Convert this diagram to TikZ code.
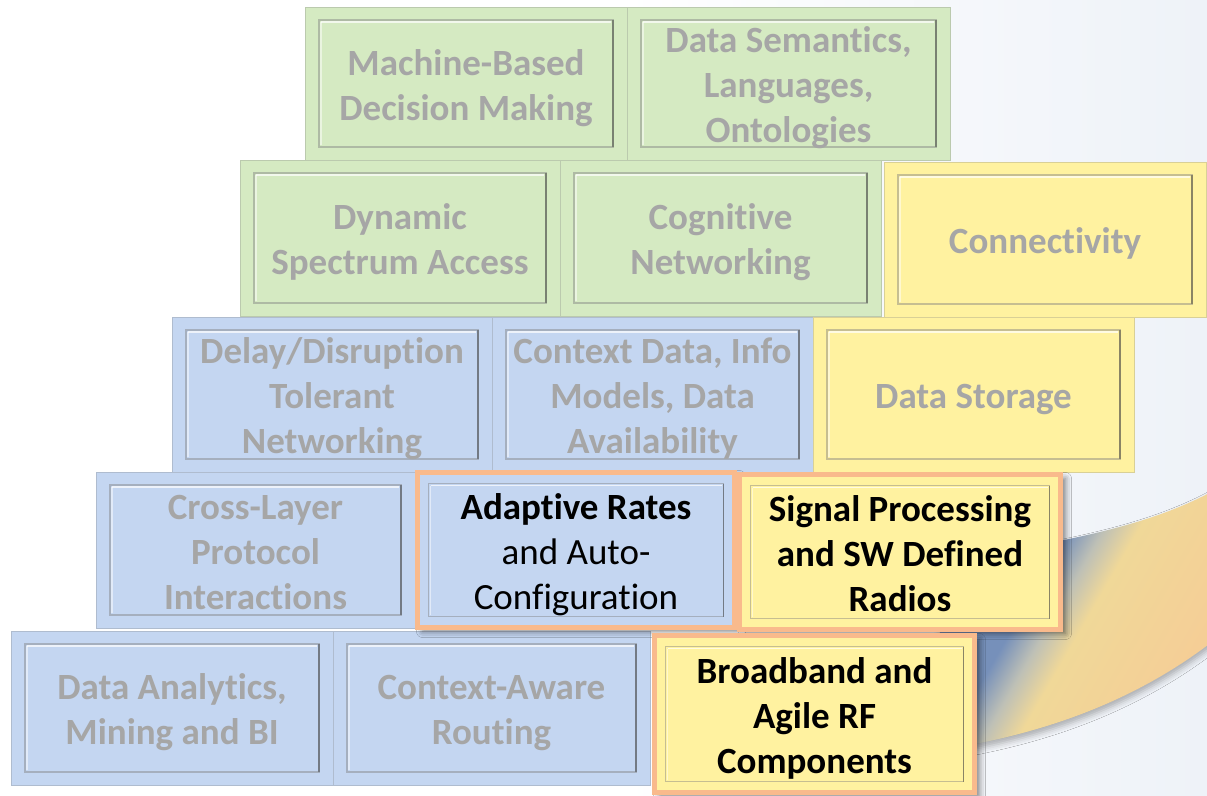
\documentclass[tikz,border=0pt]{standalone}
\usepackage{fontspec}
\setmainfont{Carlito}[Ligatures=NoCommon]
\usetikzlibrary{shadows.blur}

\definecolor{gfill}{RGB}{213,234,194}
\definecolor{bfill}{RGB}{196,214,241}
\definecolor{yfill}{RGB}{255,242,160}
\definecolor{oframe}{RGB}{249,186,140}
\definecolor{fadetext}{RGB}{166,166,166}
\definecolor{bgtint}{RGB}{238,242,248}
\definecolor{swA}{RGB}{118,144,186}
\definecolor{swB}{RGB}{190,192,182}
\definecolor{swC}{RGB}{240,216,152}
\definecolor{swD}{RGB}{246,204,150}

% band colours: slate blue on the left turning to warm sand
\pgfdeclarehorizontalshading{swooshfill}{100bp}{color(0bp)=(swA); color(40bp)=(swA); color(45.5bp)=(swB); color(51bp)=(swC); color(75bp)=(swD); color(100bp)=(swD)}

% recessed inner panel of a brick
\newcommand\bevelbox[3]{%
  \draw[#1!55!gray, line width=1.4pt]
    ([shift={(#2,-#3)}]path picture bounding box.north west) rectangle
    ([shift={(-#2,#3)}]path picture bounding box.south east);
  \draw[white, opacity=.7, line width=1.2pt]
    ([shift={(#2+2pt,-#3-2pt)}]path picture bounding box.north west) --
    ([shift={(-#2-2pt,-#3-2pt)}]path picture bounding box.north east);
  \draw[white, opacity=.5, line width=1.2pt]
    ([shift={(#2+2pt,-#3-2pt)}]path picture bounding box.north west) --
    ([shift={(#2+2pt,#3+2pt)}]path picture bounding box.south west);
  \draw[black, opacity=.3, line width=1.3pt]
    ([shift={(-#2,-#3)}]path picture bounding box.north east) --
    ([shift={(-#2,#3)}]path picture bounding box.south east);
}

% brick node: name, style, x1, y1, x2, y2, text lines (set 5pt low)
\newcommand\brickat[7]{%
  \node[#2, minimum width={#5-#3}, minimum height={#6-#4}] (#1)
    at ({(#3+#5)/2},{(#4+#6)/2})
    {\raisebox{-5pt}[\height][\depth]{\begin{tabular}{@{}c@{}}#7\end{tabular}}};}

\begin{document}
\begin{tikzpicture}[x=1pt, y=-1pt,
  brick/.style={fill=#1, draw=#1!70!gray, line width=0.8pt, inner sep=0pt,
    text=fadetext, font=\bfseries\fontsize{37}{45}\selectfont,
    path picture={\bevelbox{#1}{14pt}{13pt}}},
  hibrick/.style={fill=#1, draw=oframe, line width=5pt, inner sep=0pt,
    text=black, font=\bfseries\fontsize{37}{45}\selectfont,
    path picture={\bevelbox{#1}{11pt}{11pt}},
    blur shadow={shadow xshift=5pt, shadow yshift=-4pt, shadow opacity=50,
      shadow blur radius=6pt}}]

\useasboundingbox (0,0) rectangle (1207,795);
\fill[white] (0,0) rectangle (1207,795);
\shade[left color=white, right color=bgtint] (620,0) rectangle (1207,795);

% sweeping band behind the wall
\shade[shading=swooshfill, shading angle=-30,
  blur shadow={shadow xshift=0pt, shadow yshift=-5pt, shadow opacity=30,
    shadow blur radius=6pt}]
  (940,562) .. controls (1060,542) and (1150,528) .. (1222,486)
  -- (1222,634) .. controls (1150,692) and (1060,732) .. (940,750) -- cycle;

% top row
\brickat{mbdm}{brick=gfill}{305}{7}{627}{160}{Machine-Based\\Decision Making}
\brickat{dslo}{brick=gfill}{627}{7}{950}{160}{Data Semantics,\\Languages,\\Ontologies}
% second row
\brickat{dsa}{brick=gfill}{240}{160}{560}{316}{Dynamic\\Spectrum Access}
\brickat{cogn}{brick=gfill}{560}{160}{881}{316}{Cognitive\\Networking}
\brickat{conn}{brick=yfill}{884}{162}{1206}{317}{Connectivity}
% third row
\brickat{dtn}{brick=bfill}{172}{317}{492}{472}{Delay/Disruption\\Tolerant\\Networking}
\brickat{ctxd}{brick=bfill}{492}{317}{813}{472}{Context Data, Info\\Models, Data\\Availability}
\brickat{stor}{brick=yfill}{813}{317}{1134}{472}{Data Storage}
% fourth row
\brickat{xlayer}{brick=bfill}{96}{472}{415}{628}{Cross-Layer\\Protocol\\Interactions}
% bottom row
\brickat{anal}{brick=bfill}{11}{631}{333}{785}{Data Analytics,\\Mining and BI}
\brickat{route}{brick=bfill}{333}{631}{650}{785}{Context-Aware\\Routing}

% highlighted bricks
\brickat{adapt}{hibrick=bfill, font=\fontsize{37}{45}\selectfont}{417.5}{472.5}{734.5}{627.5}{\textbf{Adaptive Rates}\\and Auto-\\Configuration}
\brickat{sdr}{hibrick=yfill}{739.5}{474.5}{1060.5}{629.5}{Signal Processing\\and SW Defined\\Radios}
\brickat{rf}{hibrick=yfill}{654.5}{635.5}{974.5}{792.5}{Broadband and\\Agile RF\\Components}

\end{tikzpicture}
\end{document}
